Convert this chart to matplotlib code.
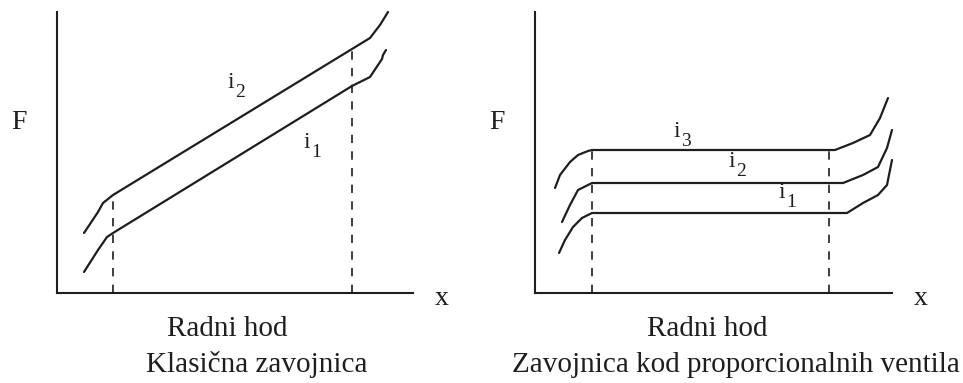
import matplotlib
matplotlib.use('Agg')
import matplotlib.pyplot as plt
import numpy as np

plt.rcParams['font.family'] = ['Liberation Serif', 'DejaVu Serif']

# left panel - classic solenoid (units, origin at axes corner)
klas_x_i2 = [27, 41, 46, 56, 295, 313, 323, 331]
klas_y_i2 = [60, 81, 90, 98, 244, 255, 268, 281]
klas_x_i1 = [27, 41, 50, 56, 295, 313, 321, 325, 326, 329]
klas_y_i1 = [21, 43, 56, 60, 207, 216, 228, 234, 238, 243]
klas_stroke = [56, 295]       # dashed limits of working stroke
klas_stroke_top = [98, 244]

# right panel - proportional valve solenoid
prop_x_i3 = [20, 25, 35, 43, 53, 57, 300, 318, 335, 345, 353]
prop_y_i3 = [105, 118, 131, 138, 142, 143, 143, 150, 158, 175, 195]
prop_x_i2 = [27, 35, 43, 57, 308, 328, 343, 352, 357]
prop_y_i2 = [71, 88, 103, 110, 110, 118, 126, 145, 163]
prop_x_i1 = [24, 30, 38, 47, 57, 312, 328, 343, 352, 357]
prop_y_i1 = [40, 53, 66, 75, 80, 80, 90, 98, 108, 133]
prop_stroke = [57, 294]
prop_stroke_top = [143, 143]

# curve labels: (subscript, x, y) for the "i"
klas_labels = [('2', 170, 205), ('1', 246, 145)]
prop_labels = [('3', 138, 156), ('2', 193, 126), ('1', 243, 95)]

W, H = 963, 383
fig = plt.figure(figsize=(W / 100, H / 100), dpi=100)
ax1 = fig.add_axes([57 / W, 90 / H, 356 / W, 281 / H])
ax2 = fig.add_axes([535 / W, 90 / H, 357 / W, 281 / H])

col = '#1e1e1e'

def setup(ax, xmax):
    ax.set_xlim(0, xmax)
    ax.set_ylim(0, 281)
    for s in ['top', 'right']:
        ax.spines[s].set_visible(False)
    for s in ['left', 'bottom']:
        ax.spines[s].set_linewidth(1.5)
        ax.spines[s].set_color(col)
    ax.set_xticks([])
    ax.set_yticks([])
    ax.patch.set_alpha(0)

setup(ax1, 356)
setup(ax2, 357)

curve_kw = dict(color=col, lw=1.6, clip_on=False, solid_joinstyle='round', solid_capstyle='round')

ax1.plot(klas_x_i2, klas_y_i2, **curve_kw)
ax1.plot(klas_x_i1, klas_y_i1, **curve_kw)
for x, top in zip(klas_stroke, klas_stroke_top):
    ax1.plot([x, x], [0, top], color=col, lw=1.2, ls=(0, (5, 5)))

for xs, ys in [(prop_x_i3, prop_y_i3), (prop_x_i2, prop_y_i2), (prop_x_i1, prop_y_i1)]:
    ax2.plot(xs, ys, **curve_kw)
for x, top in zip(prop_stroke, prop_stroke_top):
    ax2.plot([x, x], [0, top], color=col, lw=1.2, ls=(0, (5, 5)))

for ax, labels in [(ax1, klas_labels), (ax2, prop_labels)]:
    for sub, x, y in labels:
        ax.text(x, y, 'i', fontsize=17, color=col, ha='left', va='baseline')
        ax.text(x + 8, y - 9, sub, fontsize=14, color=col, ha='left', va='baseline')

def ftext(px, py, s, **kw):
    fig.text(px / W, 1 - py / H, s, color=col, **kw)

ftext(19, 129, 'F', fontsize=20, ha='center', va='baseline')
ftext(497, 129, 'F', fontsize=20, ha='center', va='baseline')
ftext(442, 305, 'x', fontsize=20, ha='center', va='baseline')
ftext(921, 305, 'x', fontsize=20, ha='center', va='baseline')
ftext(227, 336, 'Radni hod', fontsize=21, ha='center', va='baseline')
ftext(707, 336, 'Radni hod', fontsize=21, ha='center', va='baseline')
ftext(257, 372, 'Klasična zavojnica', fontsize=21, ha='center', va='baseline')
ftext(736, 372, 'Zavojnica kod proporcionalnih ventila', fontsize=21, ha='center', va='baseline')

fig.savefig('out.png', dpi=100)
